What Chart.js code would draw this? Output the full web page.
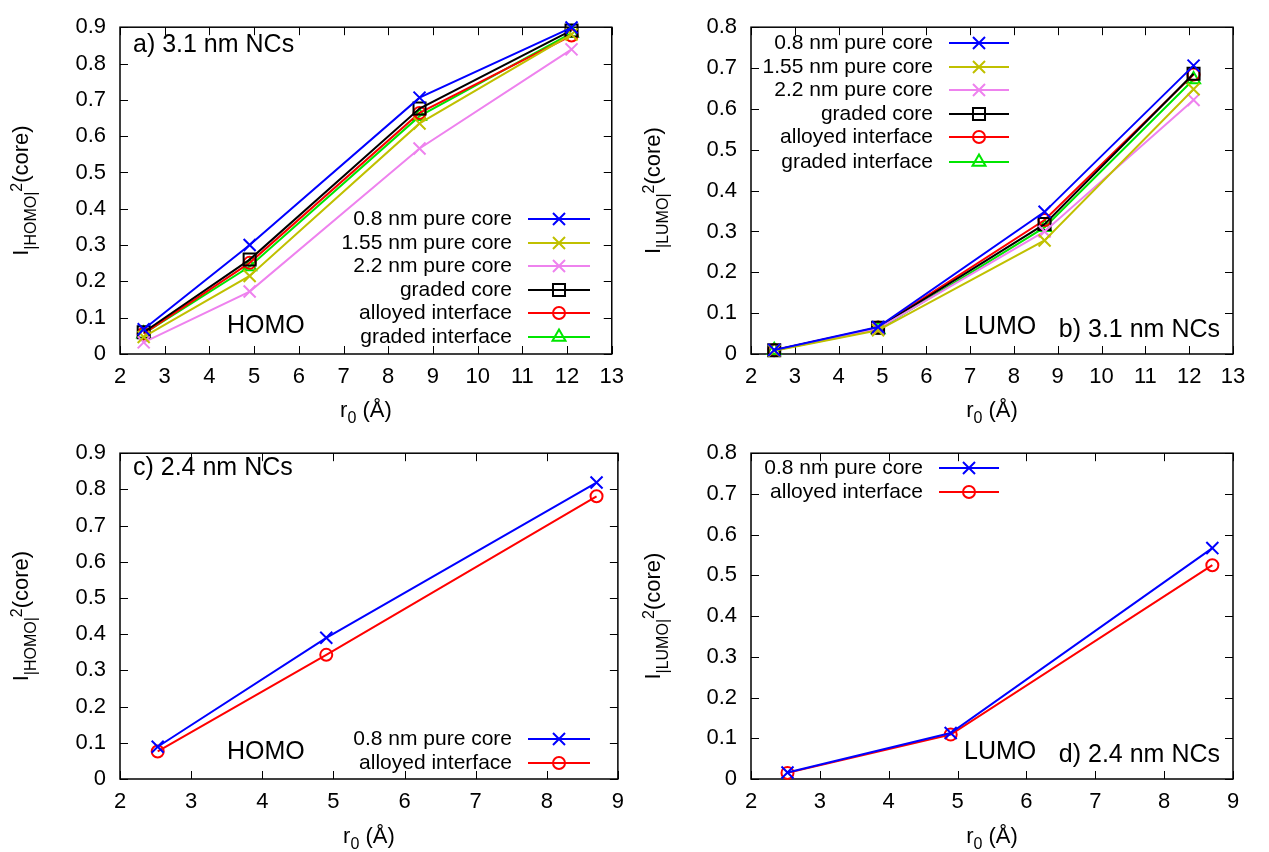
<!DOCTYPE html>
<html lang="en">
<head>
    <meta charset="UTF-8">
    <title>Core weight of HOMO / LUMO vs r0</title>
    <script src="https://cdn.jsdelivr.net/npm/chart.js"></script>
    <style>
        body {
            margin: 0;
            background: #fff;
        }
        .page {
            position: relative;
            width: 1269px;
            height: 852px;
        }
        .page canvas {
            position: absolute;
        }
    </style>
</head>
<body>
    <div class="page">
        <canvas id="panelA" width="634" height="426" style="left:0;top:0"></canvas>
        <canvas id="panelB" width="635" height="426" style="left:634px;top:0"></canvas>
        <canvas id="panelC" width="634" height="426" style="left:0;top:426px"></canvas>
        <canvas id="panelD" width="635" height="426" style="left:634px;top:426px"></canvas>
    </div>

    <script>
        const FONT = "'Liberation Sans', Arial, Helvetica, sans-serif";

        // r0 (Å) of the computed structures
        const r0 = [2.53, 4.9, 8.7, 12.1];

        // a) HOMO, 3.1 nm NCs
        const homo31Pure08 = [0.068, 0.300, 0.706, 0.899];
        const homo31Pure155 = [0.047, 0.215, 0.635, 0.880];
        const homo31Pure22 = [0.032, 0.172, 0.566, 0.839];
        const homo31GradedCore = [0.060, 0.260, 0.676, 0.891];
        const homo31Alloyed = [0.056, 0.251, 0.664, 0.877];
        const homo31GradedIf = [0.056, 0.241, 0.655, 0.884];

        // b) LUMO, 3.1 nm NCs
        const lumo31Pure08 = [0.010, 0.066, 0.348, 0.706];
        const lumo31Pure155 = [0.008, 0.058, 0.278, 0.648];
        const lumo31Pure22 = [0.009, 0.062, 0.300, 0.622];
        const lumo31GradedCore = [0.009, 0.064, 0.318, 0.686];
        const lumo31Alloyed = [0.009, 0.065, 0.328, 0.684];
        const lumo31GradedIf = [0.009, 0.060, 0.310, 0.672];

        // c) HOMO and d) LUMO, 2.4 nm NCs (first three r0 only)
        const homo24Pure08 = [0.089, 0.390, 0.819];
        const homo24Alloyed = [0.076, 0.343, 0.781];
        const lumo24Pure08 = [0.016, 0.113, 0.567];
        const lumo24Alloyed = [0.015, 0.109, 0.525];

        const names = ['0.8 nm pure core', '1.55 nm pure core', '2.2 nm pure core',
                       'graded core', 'alloyed interface', 'graded interface'];
        const colors = ['#0000ff', '#c0c000', '#ee82ee', '#000000', '#ff0000', '#00e600'];
        const markers = ['crossRot', 'crossRot', 'crossRot', 'rect', 'circle', 'triangle'];
        const radii = { crossRot: 8.5, rect: 8.5, circle: 6, triangle: 7.5 };

        function series(idx, values) {
            return {
                label: names[idx],
                data: values.map((v, i) => ({ x: r0[i], y: v })),
                borderColor: colors[idx],
                borderWidth: 2,
                pointStyle: markers[idx],
                pointRadius: radii[markers[idx]],
                pointBorderColor: colors[idx],
                pointBackgroundColor: 'rgba(0,0,0,0)',
                pointBorderWidth: 2,
                tension: 0,
                clip: false
            };
        }

        function drawMarker(ctx, style, x, y, r) {
            if (Chart.helpers && Chart.helpers.drawPoint) {
                Chart.helpers.drawPoint(ctx, { pointStyle: style, rotation: 0, radius: r, borderWidth: 2 }, x, y);
                return;
            }
            ctx.beginPath();
            ctx.arc(x, y, r, 0, Math.PI * 2);
            ctx.stroke();
        }

        // gnuplot-like box with inward ticks on all four sides
        const frame = {
            id: 'frame',
            beforeDatasetsDraw(chart) {
                const { ctx, chartArea: a, scales } = chart;
                ctx.save();
                ctx.strokeStyle = '#000';
                ctx.lineWidth = 1.5;
                ctx.strokeRect(a.left, a.top, a.right - a.left, a.bottom - a.top);
                ctx.lineWidth = 1;
                ctx.beginPath();
                scales.x.ticks.forEach(t => {
                    const px = Math.round(scales.x.getPixelForValue(t.value)) + 0.5;
                    ctx.moveTo(px, a.bottom); ctx.lineTo(px, a.bottom - 8);
                    ctx.moveTo(px, a.top); ctx.lineTo(px, a.top + 8);
                });
                scales.y.ticks.forEach(t => {
                    const py = Math.round(scales.y.getPixelForValue(t.value)) + 0.5;
                    ctx.moveTo(a.left, py); ctx.lineTo(a.left + 8, py);
                    ctx.moveTo(a.right, py); ctx.lineTo(a.right - 8, py);
                });
                ctx.stroke();
                ctx.restore();
            },
            afterDraw(chart, args, opts) {
                const { ctx, chartArea: a } = chart;
                ctx.save();
                ctx.fillStyle = '#000';

                // x axis title: r_0 (Å)
                const xParts = [['r', 22, 0], ['0', 16, 6], [' (Å)', 22, 0]];
                drawRich(ctx, xParts, (a.left + a.right) / 2, opts.xTitleY, 0);

                // y axis title: I_{|MO|^2}(core), rotated
                const yParts = [['I', 22, 0], [opts.orbital, 16, 8], ['2', 16, -6], ['(core)', 22, 0]];
                drawRich(ctx, yParts, opts.yTitleX, (a.top + a.bottom) / 2, -Math.PI / 2);

                // free text labels
                ctx.textBaseline = 'middle';
                opts.texts.forEach(t => {
                    ctx.font = t.size + 'px ' + FONT;
                    ctx.textAlign = t.align;
                    ctx.fillText(t.text, t.x, t.y);
                });

                // key: right-aligned text, line sample and marker
                const k = opts.key;
                chart.data.datasets.forEach((ds, i) => {
                    const y = k.rows[i];
                    ctx.font = '21px ' + FONT;
                    ctx.textAlign = 'right';
                    ctx.fillStyle = '#000';
                    ctx.fillText(ds.label, k.textRight, y);
                    ctx.strokeStyle = ds.borderColor;
                    ctx.lineWidth = 2;
                    ctx.beginPath();
                    ctx.moveTo(k.line[0], y);
                    ctx.lineTo(k.line[1], y);
                    ctx.stroke();
                    ctx.fillStyle = 'rgba(0,0,0,0)';
                    drawMarker(ctx, ds.pointStyle, (k.line[0] + k.line[1]) / 2, y, ds.pointRadius);
                });
                ctx.restore();
            }
        };

        // text made of runs with their own size and baseline shift
        function drawRich(ctx, parts, cx, cy, angle) {
            let total = 0;
            parts.forEach(p => {
                ctx.font = p[1] + 'px ' + FONT;
                total += ctx.measureText(p[0]).width;
            });
            ctx.save();
            ctx.translate(cx, cy);
            ctx.rotate(angle);
            ctx.textAlign = 'left';
            ctx.textBaseline = 'alphabetic';
            ctx.fillStyle = '#000';
            let x = -total / 2;
            parts.forEach(p => {
                ctx.font = p[1] + 'px ' + FONT;
                ctx.fillText(p[0], x, p[2]);
                x += ctx.measureText(p[0]).width;
            });
            ctx.restore();
        }

        function makePanel(id, datasets, o) {
            const canvas = document.getElementById(id);
            const W = canvas.width, H = canvas.height;
            const area = o.area;
            const tickFont = { family: FONT, size: 22 };
            return new Chart(canvas, {
                type: 'line',
                data: { datasets },
                options: {
                    responsive: false,
                    animation: false,
                    layout: { padding: { top: area.top, right: W - area.right, left: 0, bottom: 0 } },
                    scales: {
                        x: {
                            type: 'linear',
                            min: 2,
                            max: o.xMax,
                            grid: { display: false, drawTicks: false },
                            border: { display: false },
                            ticks: { stepSize: 1, padding: 10, color: '#000', font: tickFont, maxRotation: 0, autoSkip: false },
                            afterFit: s => { s.height = H - area.bottom; }
                        },
                        y: {
                            min: 0,
                            max: o.yMax,
                            grid: { display: false, drawTicks: false },
                            border: { display: false },
                            ticks: {
                                stepSize: 0.1, padding: 14, color: '#000', font: tickFont, autoSkip: false,
                                callback: v => String(+v.toFixed(1))
                            },
                            afterFit: s => { s.width = area.left; }
                        }
                    },
                    plugins: {
                        legend: { display: false },
                        tooltip: { enabled: false },
                        frame: {
                            orbital: o.orbital,
                            xTitleY: 417,
                            yTitleX: o.yTitleX,
                            texts: o.texts,
                            key: o.key
                        }
                    }
                },
                plugins: [frame]
            });
        }

        makePanel('panelA', [
            series(0, homo31Pure08), series(1, homo31Pure155), series(2, homo31Pure22),
            series(3, homo31GradedCore), series(4, homo31Alloyed), series(5, homo31GradedIf)
        ], {
            area: { left: 120, right: 618, top: 23, bottom: 354 },
            xMax: 13, yMax: 0.9, orbital: '|HOMO|', yTitleX: 28,
            texts: [
                { text: 'a) 3.1 nm NCs', x: 133, y: 45, align: 'left', size: 25 },
                { text: 'HOMO', x: 227, y: 326, align: 'left', size: 25 }
            ],
            key: { rows: [219, 243, 266, 290, 313, 337], textRight: 512, line: [528, 590] }
        });

        makePanel('panelB', [
            series(0, lumo31Pure08), series(1, lumo31Pure155), series(2, lumo31Pure22),
            series(3, lumo31GradedCore), series(4, lumo31Alloyed), series(5, lumo31GradedIf)
        ], {
            area: { left: 117, right: 599, top: 23, bottom: 354 },
            xMax: 13, yMax: 0.8, orbital: '|LUMO|', yTitleX: 26,
            texts: [
                { text: 'LUMO', x: 330, y: 327, align: 'left', size: 25 },
                { text: 'b) 3.1 nm NCs', x: 586, y: 330, align: 'right', size: 25 }
            ],
            key: { rows: [43, 67, 90, 114, 137, 162], textRight: 299, line: [315, 375] }
        });

        makePanel('panelC', [series(0, homo24Pure08), series(4, homo24Alloyed)], {
            area: { left: 120, right: 618, top: 22, bottom: 353 },
            xMax: 9, yMax: 0.9, orbital: '|HOMO|', yTitleX: 28,
            texts: [
                { text: 'c) 2.4 nm NCs', x: 133, y: 42, align: 'left', size: 25 },
                { text: 'HOMO', x: 227, y: 326, align: 'left', size: 25 }
            ],
            key: { rows: [313, 337], textRight: 512, line: [528, 590] }
        });

        makePanel('panelD', [series(0, lumo24Pure08), series(4, lumo24Alloyed)], {
            area: { left: 117, right: 599, top: 22, bottom: 353 },
            xMax: 9, yMax: 0.8, orbital: '|LUMO|', yTitleX: 26,
            texts: [
                { text: 'LUMO', x: 330, y: 326, align: 'left', size: 25 },
                { text: 'd) 2.4 nm NCs', x: 586, y: 329, align: 'right', size: 25 }
            ],
            key: { rows: [42, 66], textRight: 289, line: [305, 365] }
        });
    </script>
</body>
</html>
